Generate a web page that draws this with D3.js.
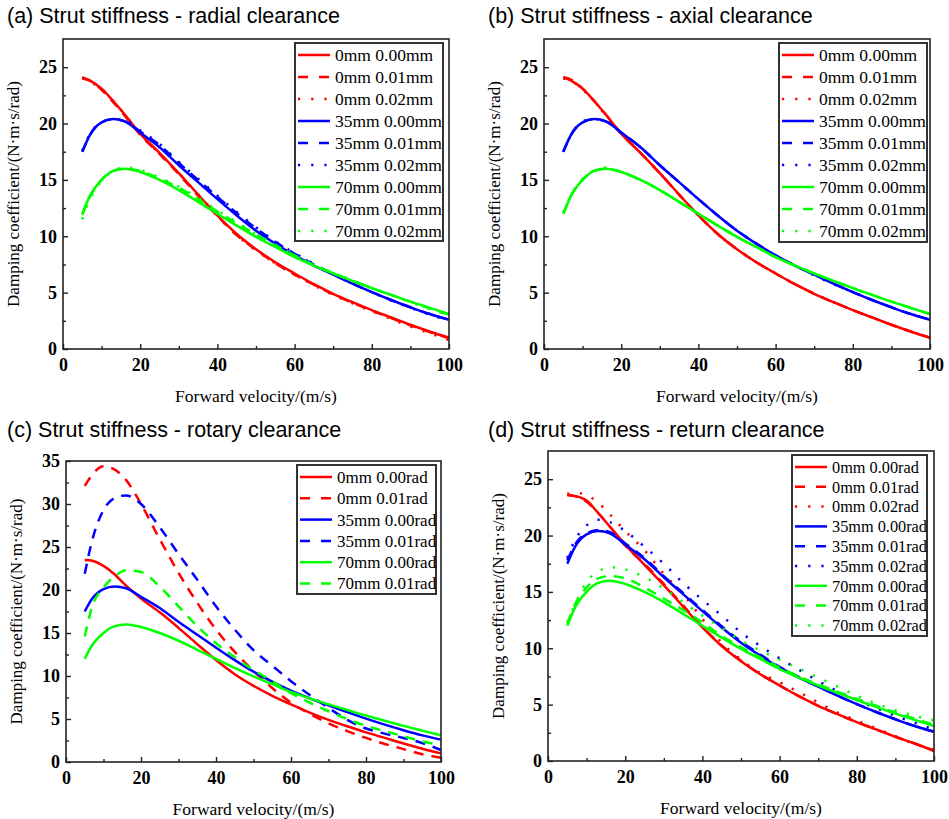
<!DOCTYPE html>
<html>
<head>
<meta charset="utf-8">
<script src="https://cdn.jsdelivr.net/npm/d3@7"></script>
<style>
  body { margin: 0; background: #fff; }
  .tick line { stroke: #222; stroke-width: 1.4; }
</style>
</head>
<body>
<svg id="chart" width="949" height="819"></svg>
<script>
// forward velocity (m/s) sample points
const velocity = [5, 7, 10, 13, 16, 20, 25, 30, 35, 40, 45, 50, 55, 60, 65, 70, 75, 80, 85, 90, 95, 100];

// shared no-clearance curves
const base0mm  = [24.1, 23.8, 23.1, 22.0, 20.8, 19.1, 17.4, 15.6, 13.7, 11.85, 10.2, 8.85, 7.7, 6.7, 5.75, 4.9, 4.15, 3.45, 2.8, 2.15, 1.55, 1.0];
const base35mm = [17.5, 19.0, 20.1, 20.4, 20.2, 19.2, 17.9, 16.3, 14.8, 13.3, 11.85, 10.5, 9.35, 8.3, 7.4, 6.6, 5.8, 5.05, 4.35, 3.7, 3.1, 2.6];
const base70mm = [12.0, 13.6, 15.0, 15.8, 16.0, 15.7, 15.0, 14.1, 13.05, 12.0, 10.95, 9.95, 9.05, 8.15, 7.4, 6.7, 6.05, 5.4, 4.8, 4.2, 3.65, 3.1];

// (a) radial clearance
const radial0mm01  = [24.0, 23.8, 23.0, 21.9, 20.7, 19.0, 17.3, 15.5, 13.6, 11.8, 10.1, 8.8, 7.6, 6.6, 5.7, 4.85, 4.1, 3.4, 2.75, 2.1, 1.5, 0.95];
const radial0mm02  = [24.1, 23.7, 23.1, 22.0, 20.8, 19.1, 17.3, 15.6, 13.7, 11.8, 10.1, 8.75, 7.6, 6.6, 5.65, 4.8, 4.05, 3.35, 2.65, 2.0, 1.4, 0.8];
const radial35mm01 = [17.5, 19.0, 20.1, 20.4, 20.2, 19.3, 18.1, 16.5, 15.0, 13.5, 12.05, 10.7, 9.5, 8.45, 7.5, 6.65, 5.8, 5.05, 4.35, 3.7, 3.1, 2.6];
const radial35mm02 = [17.6, 19.1, 20.1, 20.4, 20.3, 19.4, 18.2, 16.6, 15.1, 13.6, 12.15, 10.8, 9.55, 8.5, 7.55, 6.65, 5.85, 5.05, 4.3, 3.65, 3.05, 2.5];
const radial70mm01 = [11.9, 13.5, 15.0, 15.8, 16.0, 15.8, 15.1, 14.3, 13.3, 12.2, 11.15, 10.15, 9.2, 8.3, 7.45, 6.75, 6.05, 5.4, 4.8, 4.2, 3.6, 3.05];
const radial70mm02 = [11.5, 13.3, 14.9, 15.8, 16.1, 15.9, 15.2, 14.4, 13.4, 12.3, 11.25, 10.2, 9.25, 8.3, 7.45, 6.75, 6.1, 5.4, 4.8, 4.15, 3.55, 3.0];

// (b) axial clearance
const axial0mm01  = [24.1, 23.9, 23.1, 22.0, 20.8, 19.1, 17.4, 15.6, 13.7, 11.85, 10.2, 8.85, 7.7, 6.7, 5.75, 4.9, 4.15, 3.45, 2.8, 2.15, 1.55, 1.0];
const axial0mm02  = [24.0, 23.8, 23.0, 22.0, 20.7, 19.1, 17.4, 15.6, 13.7, 11.85, 10.2, 8.85, 7.7, 6.7, 5.75, 4.9, 4.15, 3.45, 2.8, 2.15, 1.55, 1.0];
const axial35mm01 = [17.5, 19.0, 20.1, 20.4, 20.2, 19.2, 17.9, 16.3, 14.8, 13.3, 11.85, 10.5, 9.35, 8.3, 7.4, 6.6, 5.8, 5.05, 4.35, 3.7, 3.1, 2.6];
const axial35mm02 = [17.5, 19.0, 20.2, 20.4, 20.2, 19.2, 17.9, 16.3, 14.8, 13.3, 11.85, 10.5, 9.35, 8.3, 7.4, 6.55, 5.75, 5.05, 4.35, 3.7, 3.1, 2.6];
const axial70mm01 = [12.0, 13.6, 15.0, 15.8, 16.0, 15.7, 15.0, 14.1, 13.05, 12.0, 10.95, 9.95, 9.05, 8.15, 7.4, 6.7, 6.05, 5.4, 4.8, 4.2, 3.65, 3.1];
const axial70mm02 = [12.1, 13.6, 15.1, 15.8, 16.1, 15.7, 15.0, 14.1, 13.05, 12.0, 10.95, 9.95, 9.05, 8.15, 7.4, 6.7, 6.05, 5.4, 4.8, 4.2, 3.65, 3.1];

// (c) rotary clearance
const rotary0mm00  = [23.5, 23.4, 22.8, 21.8, 20.5, 19.0, 17.4, 15.6, 13.7, 11.85, 10.2, 8.85, 7.7, 6.7, 5.75, 4.9, 4.15, 3.45, 2.8, 2.15, 1.55, 1.0];
const rotary0mm01  = [32.1, 33.4, 34.4, 34.0, 32.8, 30.0, 25.9, 22.0, 18.5, 15.4, 12.8, 10.6, 8.6, 6.9, 5.6, 4.5, 3.6, 2.8, 2.1, 1.5, 0.9, 0.5];
const rotary35mm01 = [21.9, 25.8, 29.3, 30.7, 31.0, 30.0, 27.3, 24.2, 21.2, 18.1, 15.4, 13.0, 11.2, 9.4, 7.8, 6.3, 4.9, 3.9, 3.3, 2.8, 2.2, 1.4];
const rotary70mm01 = [14.6, 18.1, 20.3, 21.6, 22.3, 22.1, 20.4, 18.1, 15.8, 13.8, 12.2, 10.7, 9.4, 8.0, 6.9, 5.9, 5.0, 4.2, 3.6, 3.0, 2.4, 2.0];

// (d) return clearance
const return0mm00  = [23.6, 23.5, 23.1, 22.0, 20.8, 19.2, 17.4, 15.6, 13.7, 11.85, 10.2, 8.85, 7.7, 6.7, 5.75, 4.9, 4.15, 3.45, 2.8, 2.15, 1.55, 0.9];
const return0mm01  = [23.6, 23.5, 23.0, 22.0, 20.8, 19.1, 17.5, 15.7, 13.8, 11.9, 10.25, 8.9, 7.7, 6.7, 5.75, 4.9, 4.15, 3.45, 2.8, 2.15, 1.55, 0.9];
const return0mm02  = [23.7, 23.8, 23.6, 22.9, 21.9, 20.4, 18.7, 16.6, 14.8, 12.6, 10.5, 9.0, 7.8, 7.0, 6.1, 5.2, 4.3, 3.6, 2.9, 2.2, 1.5, 1.0];
const return35mm01 = [17.8, 19.2, 20.2, 20.5, 20.3, 19.3, 18.0, 16.4, 14.9, 13.4, 11.95, 10.6, 9.45, 8.35, 7.45, 6.6, 5.8, 5.05, 4.35, 3.7, 3.1, 2.6];
const return35mm02 = [18.0, 19.6, 20.9, 21.4, 21.2, 20.4, 19.0, 17.5, 15.8, 14.3, 12.9, 11.4, 10.2, 9.1, 8.1, 7.1, 6.2, 5.4, 4.7, 4.0, 3.4, 2.8];
const return70mm01 = [12.2, 13.9, 15.4, 16.2, 16.4, 16.2, 15.4, 14.4, 13.4, 12.3, 11.1, 10.1, 9.2, 8.3, 7.5, 6.8, 6.15, 5.5, 4.9, 4.3, 3.75, 3.2];
const return70mm02 = [12.3, 13.9, 15.9, 16.8, 17.2, 17.0, 16.3, 15.3, 14.1, 12.9, 11.8, 10.7, 9.8, 9.0, 8.2, 7.4, 6.6, 5.8, 5.1, 4.5, 4.0, 3.6];

const RED = "#ff0000", BLUE = "#0000ff", GREEN = "#00ff00";
const SOLID = null, DASH = "10,8", DOT = "2.2,10.5";

const serif = '"Liberation Serif", "Times New Roman", serif';
const sans = '"Liberation Sans", Arial, Helvetica, sans-serif';

const panels = [
  {
    title: "(a) Strut stiffness - radial clearance", tx: 7, ty: 23,
    left: 63, top: 39, right: 449, bottom: 349, yMax: 27.5,
    legend: { x: 295, y: 43, w: 148, h: 198, row: 22, fs: 17.5 },
    series: [
      ["0mm 0.00mm", base0mm, RED, SOLID], ["0mm 0.01mm", radial0mm01, RED, DASH], ["0mm 0.02mm", radial0mm02, RED, DOT],
      ["35mm 0.00mm", base35mm, BLUE, SOLID], ["35mm 0.01mm", radial35mm01, BLUE, DASH], ["35mm 0.02mm", radial35mm02, BLUE, DOT],
      ["70mm 0.00mm", base70mm, GREEN, SOLID], ["70mm 0.01mm", radial70mm01, GREEN, DASH], ["70mm 0.02mm", radial70mm02, GREEN, DOT]
    ]
  },
  {
    title: "(b) Strut stiffness - axial clearance", tx: 488, ty: 23,
    left: 544, top: 39, right: 930, bottom: 349, yMax: 27.5,
    legend: { x: 779, y: 43, w: 148, h: 199, row: 22, fs: 17.5 },
    series: [
      ["0mm 0.00mm", base0mm, RED, SOLID], ["0mm 0.01mm", axial0mm01, RED, DASH], ["0mm 0.02mm", axial0mm02, RED, DOT],
      ["35mm 0.00mm", base35mm, BLUE, SOLID], ["35mm 0.01mm", axial35mm01, BLUE, DASH], ["35mm 0.02mm", axial35mm02, BLUE, DOT],
      ["70mm 0.00mm", base70mm, GREEN, SOLID], ["70mm 0.01mm", axial70mm01, GREEN, DASH], ["70mm 0.02mm", axial70mm02, GREEN, DOT]
    ]
  },
  {
    title: "(c) Strut stiffness - rotary clearance", tx: 7, ty: 437,
    left: 66, top: 461, right: 441, bottom: 762, yMax: 35,
    legend: { x: 297, y: 465, w: 139, h: 129, row: 21.3, fs: 17 },
    series: [
      ["0mm 0.00rad", rotary0mm00, RED, SOLID], ["0mm 0.01rad", rotary0mm01, RED, DASH],
      ["35mm 0.00rad", base35mm, BLUE, SOLID], ["35mm 0.01rad", rotary35mm01, BLUE, DASH],
      ["70mm 0.00rad", base70mm, GREEN, SOLID], ["70mm 0.01rad", rotary70mm01, GREEN, DASH]
    ]
  },
  {
    title: "(d) Strut stiffness - return clearance", tx: 488, ty: 437,
    left: 548, top: 451, right: 934, bottom: 761, yMax: 27.5,
    legend: { x: 792, y: 455, w: 135, h: 181, row: 19.8, fs: 16.3 },
    series: [
      ["0mm 0.00rad", return0mm00, RED, SOLID], ["0mm 0.01rad", return0mm01, RED, DASH], ["0mm 0.02rad", return0mm02, RED, DOT],
      ["35mm 0.00rad", base35mm, BLUE, SOLID], ["35mm 0.01rad", return35mm01, BLUE, DASH], ["35mm 0.02rad", return35mm02, BLUE, DOT],
      ["70mm 0.00rad", base70mm, GREEN, SOLID], ["70mm 0.01rad", return70mm01, GREEN, DASH], ["70mm 0.02rad", return70mm02, GREEN, DOT]
    ]
  }
];

const svg = d3.select("#chart");

panels.forEach(p => {
  const g = svg.append("g");
  const x = d3.scaleLinear().domain([0, 100]).range([p.left, p.right]);
  const y = d3.scaleLinear().domain([0, p.yMax]).range([p.bottom, p.top]);

  // title
  g.append("text")
    .attr("x", p.tx).attr("y", p.ty)
    .style("font-family", sans).style("font-size", "21.5px")
    .text(p.title);

  // curves
  const line = d3.line()
    .x((d, i) => x(velocity[i]))
    .y(d => y(d))
    .curve(d3.curveMonotoneX);

  p.series.forEach(s => {
    g.append("path")
      .attr("d", line(s[1]))
      .attr("fill", "none")
      .attr("stroke", s[2])
      .attr("stroke-width", 2.5)
      .attr("stroke-dasharray", s[3]);
  });

  // axes, ticks inward
  const yMajor = d3.range(0, p.yMax + 0.01, 5);
  const yMinor = d3.range(2.5, p.yMax, 5);
  g.append("g").attr("transform", `translate(0,${p.bottom})`)
    .call(d3.axisBottom(x).tickValues([0, 20, 40, 60, 80, 100]).tickSize(-5).tickPadding(9));
  g.append("g").attr("transform", `translate(0,${p.bottom})`)
    .call(d3.axisBottom(x).tickValues([10, 30, 50, 70, 90]).tickSize(-3).tickFormat(""));
  g.append("g").attr("transform", `translate(${p.left},0)`)
    .call(d3.axisLeft(y).tickValues(yMajor).tickSize(-5).tickPadding(6));
  g.append("g").attr("transform", `translate(${p.left},0)`)
    .call(d3.axisLeft(y).tickValues(yMinor).tickSize(-3).tickFormat(""));
  g.selectAll(".domain").remove();
  g.selectAll("g").attr("font-family", null);
  g.selectAll(".tick text")
    .style("font-family", serif).style("font-weight", "bold").style("font-size", "18px").attr("fill", "#000");

  // frame
  g.append("rect")
    .attr("x", p.left).attr("y", p.top)
    .attr("width", p.right - p.left).attr("height", p.bottom - p.top)
    .attr("fill", "none").attr("stroke", "#222").attr("stroke-width", 1.6);

  // axis titles
  g.append("text")
    .attr("x", (p.left + p.right) / 2).attr("y", p.bottom + 53)
    .attr("text-anchor", "middle")
    .style("font-family", serif).style("font-size", "17.5px")
    .text("Forward velocity/(m/s)");
  g.append("text")
    .attr("transform", `translate(${p.left - 44},${(p.top + p.bottom) / 2}) rotate(-90)`)
    .attr("text-anchor", "middle")
    .style("font-family", serif).style("font-size", "17px")
    .text("Damping coefficient/(N·m·s/rad)");

  // legend
  const L = p.legend;
  const lg = g.append("g");
  lg.append("rect")
    .attr("x", L.x).attr("y", L.y).attr("width", L.w).attr("height", L.h)
    .attr("fill", "#fff").attr("stroke", "#333").attr("stroke-width", 2);
  p.series.forEach((s, i) => {
    const cy = L.y + 12 + i * L.row;
    lg.append("line")
      .attr("x1", L.x + 3).attr("x2", L.x + 35)
      .attr("y1", cy).attr("y2", cy)
      .attr("stroke", s[2]).attr("stroke-width", 2.5)
      .attr("stroke-dasharray", s[3] === DOT ? "2.2,11" : s[3] === DASH ? "10,11" : null);
    lg.append("text")
      .attr("x", L.x + 40).attr("y", cy)
      .attr("dy", "0.35em")
      .style("font-family", serif).style("font-size", L.fs + "px")
      .text(s[0]);
  });
});
</script>
</body>
</html>
